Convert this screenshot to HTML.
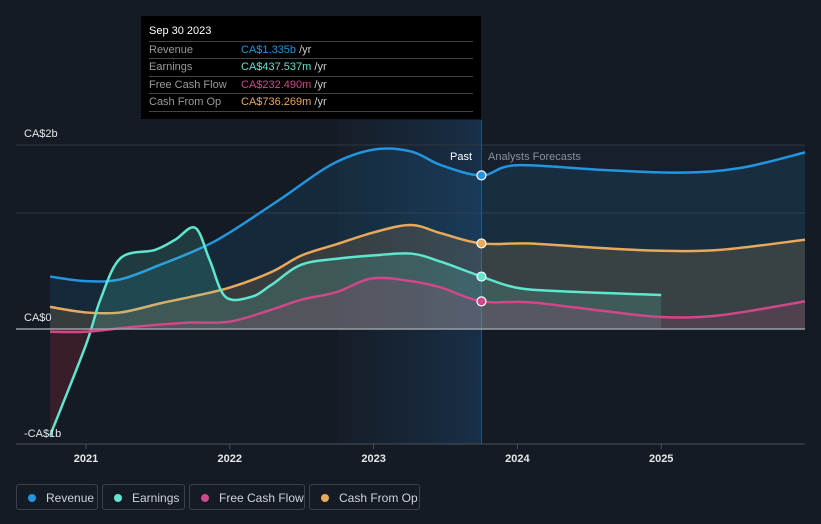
<!DOCTYPE html>
<html><head><meta charset="utf-8"><style>
body{margin:0;background:#151b24;width:821px;height:524px;overflow:hidden;font-family:"Liberation Sans",sans-serif}
svg{position:absolute;left:0;top:0}
#tip{position:absolute;left:141px;top:16px;width:340px;height:103px;background:#000;color:#ccc;font-size:11px}
#tip .h{position:absolute;left:8px;top:9px;color:#fff;font-size:11px}
#tip .r{position:absolute;left:8px;width:324px;height:17px;border-top:1px solid #444;line-height:17px}
#tip .r span.l{color:#9a9a9a;display:inline-block;width:92px}
.lg{position:absolute;top:484px;height:26px;border:1px solid #3a414c;border-radius:3px;color:#cfd3d8;font-size:12px;line-height:26px;box-sizing:border-box}
.lg i{display:inline-block;width:8px;height:8px;border-radius:50%;margin:0 10px 0 11px}
</style></head><body>
<svg id="c" width="821" height="524"><defs>
<clipPath id="pos"><rect x="0" y="0" width="821" height="329"/></clipPath>
<clipPath id="neg"><rect x="0" y="329" width="821" height="200"/></clipPath>
<linearGradient id="pg" x1="0" x2="1" y1="0" y2="0"><stop offset="0" stop-color="#1a3550" stop-opacity="0.1"/><stop offset="1" stop-color="#1a3d60" stop-opacity="0.6"/></linearGradient>
</defs></svg>
<div id="tip">
<div class="h">Sep 30 2023</div>
<div class="r" style="top:25px"><span class="l">Revenue</span><span style="color:#2394df">CA$1.335b</span> /yr</div>
<div class="r" style="top:42px"><span class="l">Earnings</span><span style="color:#5ee6cf">CA$437.537m</span> /yr</div>
<div class="r" style="top:60px"><span class="l">Free Cash Flow</span><span style="color:#d0478a">CA$232.490m</span> /yr</div>
<div class="r" style="top:77px;border-bottom:1px solid #444"><span class="l">Cash From Op</span><span style="color:#e8a95a">CA$736.269m</span> /yr</div>
</div>
<div class="lg" style="left:16px;width:82px"><i style="background:#2394df"></i>Revenue</div>
<div class="lg" style="left:102px;width:83px"><i style="background:#5ee6cf"></i>Earnings</div>
<div class="lg" style="left:189px;width:116px"><i style="background:#d0478a"></i>Free Cash Flow</div>
<div class="lg" style="left:309px;width:111px"><i style="background:#e8a95a"></i>Cash From Op</div>
<script>
const yearTicks=[2021,2022,2023,2024,2025];
const yTickVals=[2,0,-1];
const yTickLabels=["CA$2b","CA$0","-CA$1b"];
const revT=[2020.75,2021.0,2021.24,2021.52,2021.8,2022.0,2022.36,2022.71,2023.0,2023.26,2023.47,2023.75,2023.99,2024.58,2025.13,2025.55,2026.0];
const revV=[0.57,0.52,0.54,0.70,0.88,1.05,1.42,1.79,1.95,1.93,1.78,1.67,1.78,1.73,1.70,1.75,1.92];
const earT=[2020.75,2021.0,2021.1,2021.24,2021.48,2021.62,2021.76,2021.86,2021.97,2022.15,2022.29,2022.5,2022.78,2023.0,2023.26,2023.47,2023.75,2023.99,2024.3,2025.0];
const earV=[-1.16,-0.17,0.32,0.77,0.86,0.97,1.10,0.75,0.35,0.35,0.48,0.70,0.77,0.80,0.82,0.73,0.57,0.45,0.41,0.37];
const fcfT=[2020.75,2021.0,2021.24,2021.45,2021.73,2022.0,2022.29,2022.5,2022.74,2022.99,2023.26,2023.47,2023.75,2024.09,2024.58,2025.0,2025.41,2026.0];
const fcfV=[-0.03,-0.03,0.01,0.04,0.07,0.08,0.21,0.32,0.40,0.55,0.52,0.45,0.30,0.29,0.20,0.13,0.15,0.30];
const cfoT=[2020.75,2021.0,2021.24,2021.52,2021.73,2022.0,2022.29,2022.5,2022.74,2023.0,2023.26,2023.47,2023.75,2024.09,2024.58,2025.0,2025.41,2026.0];
const cfoV=[0.24,0.18,0.18,0.28,0.35,0.45,0.62,0.80,0.92,1.05,1.13,1.04,0.93,0.93,0.88,0.85,0.86,0.97];
const X=t=>86+(t-2021)*143.8, Y=v=>329-v*92;
const svg=document.getElementById('c');const NS='http://www.w3.org/2000/svg';
function el(tag,a,p){const e=document.createElementNS(NS,tag);for(const k in a)e.setAttribute(k,a[k]);(p||svg).appendChild(e);return e;}
function path(ts,vs){const p=ts.map((t,i)=>[X(t),Y(vs[i])]);let d='M'+p[0][0]+','+p[0][1];
for(let i=0;i<p.length-1;i++){const p0=p[i-1]||p[i],p1=p[i],p2=p[i+1],p3=p[i+2]||p2;
d+=' C'+(p1[0]+(p2[0]-p0[0])/6)+','+(p1[1]+(p2[1]-p0[1])/6)+' '+(p2[0]-(p3[0]-p1[0])/6)+','+(p2[1]-(p3[1]-p1[1])/6)+' '+p2[0]+','+p2[1];}
return d;}
const pastX=X(2023.75);
const sh=el('rect',{x:X(2022.75),y:120,width:pastX-X(2022.75),height:324,fill:'url(#pg)'});

el('rect',{x:pastX,y:145,width:805-pastX,height:184,fill:'#1b2a3d',opacity:0.35});
[145,213].forEach(y=>el('line',{x1:16,x2:805,y1:y,y2:y,stroke:'#2f3640','stroke-width':1}));
el('line',{x1:pastX,x2:pastX,y1:120,y2:444,stroke:'#24527a','stroke-width':1});
const series=[[revT,revV,'#2394df','revenue'],[cfoT,cfoV,'#e8a95a','cash-from-op'],[earT,earV,'#5ee6cf','earnings'],[fcfT,fcfV,'#d0478a','free-cash-flow']];
series.forEach(([t,v,c,n])=>{const d=path(t,v);
const ad=d+' L'+X(t[t.length-1])+','+Y(0)+' L'+X(t[0])+','+Y(0)+'Z';
const a=el('path',{d:ad,fill:c,opacity:n=='revenue'?0.12:0.16,'clip-path':'url(#pos)'});

const b=el('path',{d:ad,fill:'#7a2530',opacity:0.35,'clip-path':'url(#neg)'});

const l=el('path',{d:d,fill:'none',stroke:c,'stroke-width':2.5});
});
el('line',{x1:16,x2:805,y1:Y(0),y2:Y(0),stroke:'#9aa0a6','stroke-width':1.5});
el('line',{x1:16,x2:805,y1:444,y2:444,stroke:'#4a5059','stroke-width':1});
series.forEach(([t,v,c,n])=>{const i=t.indexOf(2023.75);const d=el('circle',{cx:pastX,cy:Y(v[i]),r:4.5,fill:c,stroke:'#fff','stroke-width':1.2});
});
yTickVals.forEach((v,i)=>{const t=el('text',{x:24,y:v<0?437:Y(v)-8,fill:'#e6e6e6','font-size':11});t.textContent=yTickLabels[i];
});
yearTicks.forEach(y=>{el('line',{x1:X(y),x2:X(y),y1:444,y2:449,stroke:'#4a5059'});
const t=el('text',{x:X(y),y:462,fill:'#e6e6e6','font-size':11,'text-anchor':'middle','font-weight':'bold'});t.textContent=y;
});
const p=el('text',{x:472,y:160,fill:'#fff','font-size':11,'text-anchor':'end'});p.textContent='Past';

const f=el('text',{x:488,y:160,fill:'#8a8f96','font-size':11});f.textContent='Analysts Forecasts';

</script>
</body></html>
